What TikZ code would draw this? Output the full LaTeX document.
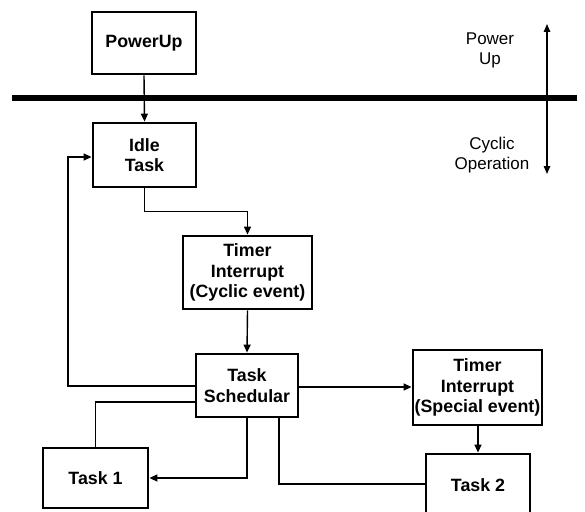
\documentclass[tikz,border=0pt]{standalone}
\usepackage{fontspec}
\setmainfont{Liberation Sans}
\usetikzlibrary{arrows.meta}
\begin{document}
\begin{tikzpicture}[x=1pt,y=-1pt,
  box/.style={draw=black, line width=2.8pt, fill=white, inner sep=0pt, align=center,
    font=\bfseries\fontsize{17.8}{20.5}\selectfont},
  lbl/.style={inner sep=0pt, align=center, font=\fontsize{17}{20}\selectfont},
  conn/.style={line width=1.4pt},
  arr/.style={conn, -{Triangle[length=8pt,width=7pt]}}]
\useasboundingbox (0,0) rectangle (585,511);
\clip (0,0) rectangle (585,511);
% boundary line
\coordinate (bl) at (12,98);
\coordinate (br) at (577,98);
\draw[line width=6pt] (bl) -- (br);
% phase arrow
\coordinate (vt) at (547,24);
\coordinate (vb) at (547,174);
\draw[conn, {Triangle[length=8pt,width=6.5pt]}-{Triangle[length=8pt,width=6.5pt]}] (vt) -- (vb);
\node[lbl] (lpu) at (490,50) {Power\\Up};
\node[lbl] (lco) at (492,155) {Cyclic\\Operation};
% boxes
\node[box, minimum width=104pt, minimum height=62pt] (pu) at (144,43) {PowerUp};
\node[box, minimum width=103pt, minimum height=64pt] (idle) at (144.5,155) {Idle\\Task};
\node[box, minimum width=129pt, minimum height=73pt] (cyc) at (247.5,272.5) {Timer\\Interrupt\\(Cyclic event)};
\node[box, minimum width=102pt, minimum height=63pt] (sched) at (247,385.5) {Task\\Schedular};
\node[box, minimum width=129pt, minimum height=75pt] (spec) at (477.5,387.5) {Timer\\Interrupt\\(Special event)};
\node[box, minimum width=105pt, minimum height=60pt] (t1) at (95.5,478) {Task 1};
\node[box, minimum width=104pt, minimum height=62pt] (t2) at (478,485) {Task 2};
% connectors
\draw[arr] (pu.south) -- (idle.north);
\draw[arr] (idle.south) -- ++(0,23) -| (cyc.north);
\draw[arr] (cyc.south) -- (sched.north);
\draw[arr] (sched.west |- 0,386) -- (68,386) |- (idle.west |- 0,157);
\draw[conn] (t1.north) |- (sched.west |- 0,402);
\draw[arr] (sched.south) |- (t1.east);
\draw[arr] (sched.east |- 0,387) -- (spec.west |- 0,387);
\draw[arr] (spec.south -| t2.north) -- (t2.north);
\draw[conn] (sched.south -| 279,0) |- (t2.west |- 0,484);
\end{tikzpicture}
\end{document}
